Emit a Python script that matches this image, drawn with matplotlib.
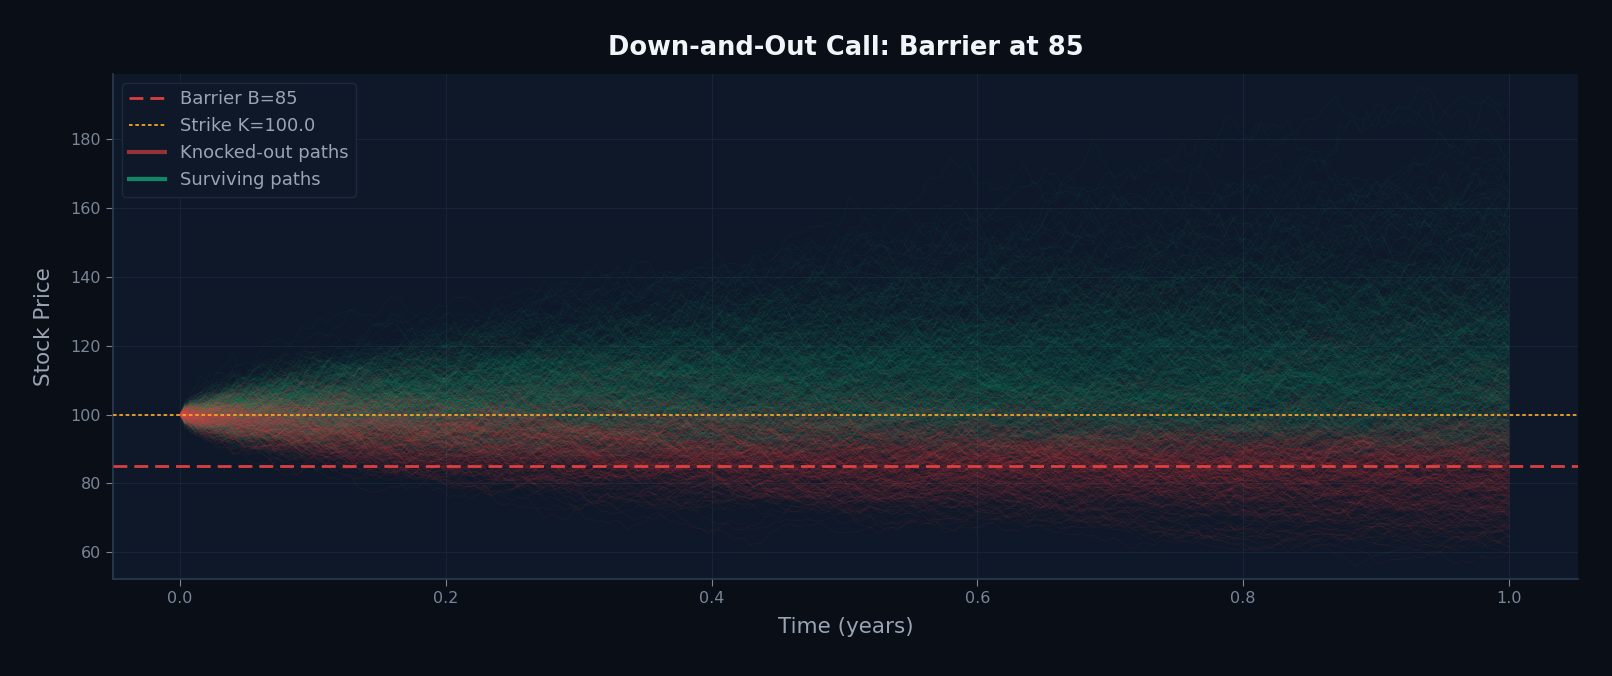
import numpy as np
import matplotlib
matplotlib.use("Agg")
import matplotlib.pyplot as plt
from matplotlib.lines import Line2D

# ---- parameters of the simulated chart ----
S0 = 100.0
barrier = 85
strike = 100.0
T = 1.0
r = 0.05
sigma = 0.2
n_steps = 252
n_paths = 1000
x_ticks = [0.0, 0.2, 0.4, 0.6, 0.8, 1.0]
y_ticks = [60, 80, 100, 120, 140, 160, 180]

# ---- Monte Carlo paths (seeded GBM, as in the original simulation) ----
rng = np.random.default_rng(42)
dt = T / n_steps
z = rng.standard_normal((n_paths, n_steps))
log_inc = (r - 0.5 * sigma ** 2) * dt + sigma * np.sqrt(dt) * z
paths = S0 * np.exp(np.concatenate([np.zeros((n_paths, 1)), np.cumsum(log_inc, axis=1)], axis=1))
t = np.linspace(0, T, n_steps + 1)
knocked = (paths <= barrier).any(axis=1)

FIG_BG = "#0a0e17"
AX_BG = "#0e1828"
TICK = "#7a8596"
LABEL = "#9aa4b2"
RED = "#ef4444"
GREEN = "#10b981"
ORANGE = "#f5a524"

fig = plt.figure(figsize=(16.12, 6.76), dpi=100, facecolor=FIG_BG)
ax = fig.add_axes([113 / 1612, 1 - 579 / 676, (1578 - 113) / 1612, (579 - 74) / 676])
ax.set_facecolor(AX_BG)

for p in paths[~knocked]:
    ax.plot(t, p, color=GREEN, alpha=0.05, lw=0.6)
for p in paths[knocked]:
    ax.plot(t, p, color=RED, alpha=0.075, lw=0.6)

ax.axhline(barrier, color=RED, ls=(0, (5, 2.5)), lw=2.0, alpha=0.9, zorder=5)
ax.axhline(strike, color=ORANGE, ls=(0, (2, 1.5)), lw=1.3, zorder=5)

ax.set_xlim(-0.0504, 1.0519)
ax.set_ylim(52.2, 199)
ax.set_xticks(x_ticks)
ax.set_yticks(y_ticks)
ax.tick_params(colors=TICK, labelsize=11.5, length=5)
for s in ["top", "right"]:
    ax.spines[s].set_visible(False)
for s in ["left", "bottom"]:
    ax.spines[s].set_color("#2a3a52")
    ax.spines[s].set_linewidth(1.2)
ax.grid(True, color="#1a283b", lw=0.8, alpha=0.8)
ax.set_axisbelow(True)

ax.set_xlabel("Time (years)", color=LABEL, fontsize=15.5, labelpad=8)
ax.set_ylabel("Stock Price", color=LABEL, fontsize=15.5, labelpad=12)
ax.set_title("Down-and-Out Call: Barrier at 85", color="#f1f5f9", fontsize=18.5,
             fontweight="bold", pad=14)

handles = [
    Line2D([], [], color=RED, ls=(0, (5, 2.5)), lw=2.0, alpha=0.9),
    Line2D([], [], color=ORANGE, ls=(0, (2, 1.5)), lw=1.3),
    Line2D([], [], color=RED, lw=3, alpha=0.6),
    Line2D([], [], color=GREEN, lw=3, alpha=0.7),
]
labels = [f"Barrier B={barrier}", f"Strike K={strike}", "Knocked-out paths", "Surviving paths"]
leg = ax.legend(handles, labels, loc="upper left", fontsize=13, facecolor=AX_BG,
                edgecolor="#1e2b3f", framealpha=0.9, labelcolor=LABEL)

fig.savefig("out.png", dpi=100, facecolor=FIG_BG)
